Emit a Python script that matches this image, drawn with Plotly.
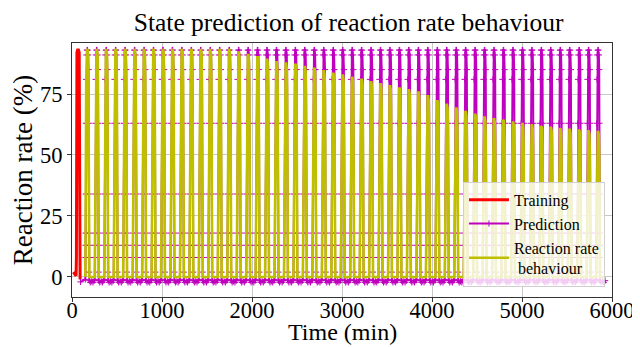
import plotly.graph_objects as go

# ---- data ----
# rise time (min) of every predicted / measured pulse
cycle_starts = [148, 253, 358, 463, 568, 674, 779, 884, 989, 1094, 1199, 1304, 1409,
                1514, 1619, 1725, 1830, 1935, 2040, 2145, 2250, 2355, 2460, 2565, 2670,
                2776, 2881, 2986, 3091, 3196, 3301, 3406, 3511, 3616, 3721, 3827, 3932,
                4037, 4142, 4247, 4352, 4457, 4562, 4667, 4772, 4878, 4983, 5088, 5193,
                5298, 5403, 5508, 5613, 5718, 5823]

# sample times inside one pulse (min after rise start)
pulse_offsets = [0, 2, 3, 4, 6, 8, 10, 13, 19, 25, 31, 35, 37, 38, 39, 40, 41, 42, 44, 55, 70, 85, 100]
# predicted rate (%) at those samples
pred_pulse = [-1, 8, 13, 18, 34, 63, 81, 91, 93, 93, 91, 85, 63, 34, 18, 13, 8, 2, -1.5, -2.2, -1.8, -2.2, -1.5]
# measured rate pulse, relative to its peak
actual_pulse = [0.0, 0.09, 0.14, 0.19, 0.37, 0.68, 0.87, 0.98, 1.0, 1.0, 0.98, 0.87, 0.68, 0.37,
                0.19, 0.14, 0.09, 0.02, 0.0, 0.0, 0.0, 0.0, 0.0]
# measured peak (%) of every pulse
actual_peaks = [93, 93, 93, 93, 93, 93, 93, 93, 93, 93, 93, 93, 93, 93, 93, 93,
                92, 91, 90, 89, 88, 87.5, 87,
                86, 85.3, 84.3, 83.3, 82.6, 81.6, 80.8, 79.8, 79, 78.2, 77.2, 76.5, 75.6,
                74.1, 72, 70.6, 69, 67.6, 66.5, 65.3, 64.6,
                64, 63.3, 62.7, 62.2, 61.5, 61.1, 60.5, 60.3, 60, 59.7, 59.4]

# training segment
train_t = [15, 30, 45, 49, 50, 52, 55, 62, 72, 80, 83, 85, 87, 90]
train_v = [2, 1, 0.5, 8, 34, 81, 92, 93, 93, 92, 63, 18, 2, -1]

x_ticks = [0, 1000, 2000, 3000, 4000, 5000, 6000]
y_ticks = [0, 25, 50, 75]

# ---- build series ----
pred_t, pred_v, act_t, act_v = [95], [-2], [], []
for start, peak in zip(cycle_starts, actual_peaks):
    for off, pv, av in zip(pulse_offsets, pred_pulse, actual_pulse):
        pred_t.append(start + off)
        pred_v.append(pv)
        act_t.append(start + off)
        act_v.append(av * peak)

FONT = "Liberation Serif"

fig = go.Figure()
fig.add_trace(go.Scatter(x=train_t, y=train_v, mode="lines", name="Training",
                         line=dict(color="#ff0000", width=3)))
fig.add_trace(go.Scatter(x=pred_t, y=pred_v, mode="lines+markers", name="Prediction",
                         line=dict(color="#bf00bf", width=2),
                         marker=dict(symbol="cross-thin", size=4.5,
                                     line=dict(color="#bf00bf", width=1))))
fig.add_trace(go.Scatter(x=act_t, y=act_v, mode="lines", name="Reaction rate<br>\u00a0behaviour",
                         line=dict(color="#bfbf00", width=2.6)))

axis_common = dict(showline=True, linecolor="#333333", linewidth=1, mirror=True,
                   ticks="outside", ticklen=4, tickcolor="#333333", automargin=False,
                   showgrid=True, gridcolor="#c8c8c8", gridwidth=1, zeroline=False,
                   tickfont=dict(family=FONT, size=22.5, color="black"))

# page has an 8px body margin, so the figure is sized 632x339
fig.update_layout(
    width=632, height=339,
    margin=dict(l=64, r=28, t=35, b=50),
    paper_bgcolor="white", plot_bgcolor="white",
    title=dict(text="State prediction of reaction rate behaviour", x=0.539, xanchor="center",
               y=0.96, yanchor="middle", font=dict(family=FONT, size=25.5, color="black")),
    xaxis=dict(range=[0, 6000], tickvals=x_ticks, ticktext=[str(v) for v in x_ticks],
               ticklabelstandoff=-11, **axis_common),
    yaxis=dict(range=[-8.2, 95.9], tickvals=y_ticks, ticktext=[str(v) for v in y_ticks],
               title=dict(text="Reaction rate (%)", font=dict(family=FONT, size=27, color="black"),
                          standoff=5),
               **axis_common),
    annotations=[dict(text="Time (min)", xref="paper", yref="paper", x=0.5, y=0,
                      xanchor="center", yanchor="top", yshift=-21, showarrow=False,
                      borderpad=0,
                      font=dict(family=FONT, size=24, color="black"))],
    legend=dict(x=0.987, y=0.04, xanchor="right", yanchor="bottom",
                bgcolor="rgba(255,255,255,0.8)", bordercolor="#d0d0d0", borderwidth=1,
                itemwidth=40,
                font=dict(family=FONT, size=16, color="black"), tracegroupgap=0),
    showlegend=True,
)

fig.write_html("out.html")
